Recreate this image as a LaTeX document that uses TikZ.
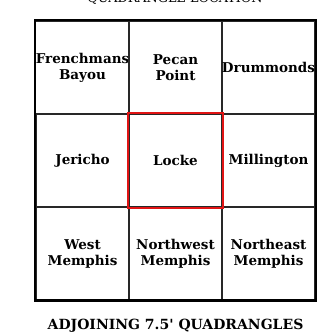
\documentclass[tikz,border=0pt]{standalone}
\usepackage{fontspec}
\setmainfont{DejaVu Serif}
\newfontfamily\plainquote{DejaVu Serif}[Ligatures=TeXOff]
\definecolor{boxred}{RGB}{225,20,20}
\definecolor{gridline}{RGB}{40,40,40}
\begin{document}
\begin{tikzpicture}[x=1pt,y=1pt,
  cell/.style={draw=gridline, line width=1.2pt, minimum width=93pt, minimum height=93pt,
    inner sep=0pt, align=center, font=\bfseries\fontsize{13.5}{16}\selectfont},
  caption/.style={anchor=base, inner sep=0pt}]
\useasboundingbox (0,0) rectangle (328,336);
\node[cell] (fb) at (82.5,268.5) {Frenchmans\\Bayou};
\node[cell] (pp) at (175.5,268.5) {Pecan\\Point};
\node[cell] (dr) at (268.5,268.5) {Drummonds};
\node[cell] (je) at (82.5,175.5) {Jericho};
\node[cell] (lo) at (175.5,175.5) {Locke};
\node[cell] (mi) at (268.5,175.5) {Millington};
\node[cell] (wm) at (82.5,82.5) {West\\Memphis};
\node[cell] (nw) at (175.5,82.5) {Northwest\\Memphis};
\node[cell] (ne) at (268.5,82.5) {Northeast\\Memphis};
\draw[line width=2.2pt] (fb.north west) rectangle (ne.south east);
\draw[boxred, line width=2pt] (lo.north west) rectangle (lo.south east);
\node[caption, font=\fontsize{12.8}{14}\selectfont] (top) at (175,333) {QUADRANGLE LOCATION};
\node[caption, font=\plainquote\bfseries\fontsize{14}{16}\selectfont] (bottom) at (175.5,6) {ADJOINING 7.5' QUADRANGLES};
\end{tikzpicture}
\end{document}
